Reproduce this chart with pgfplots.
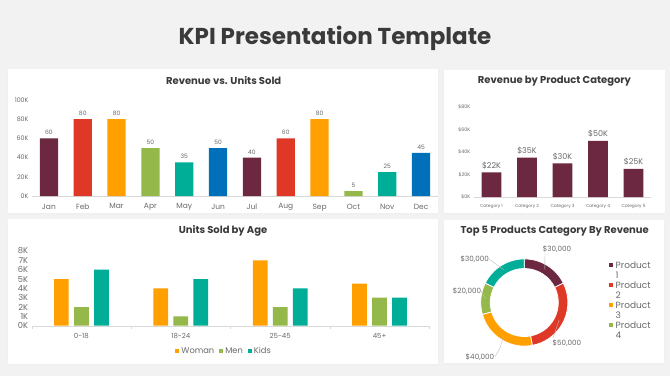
\documentclass[border=0pt]{standalone}
\usepackage{pgfplots}
\pgfplotsset{compat=1.18}
\usepackage{fontspec}
\setmainfont{Poppins}
\definecolor{cMaroon}{HTML}{6B2840}
\definecolor{cRed}{HTML}{DF3826}
\definecolor{cOrange}{HTML}{FF9F00}
\definecolor{cGreen}{HTML}{94B84A}
\definecolor{cTeal}{HTML}{00AE98}
\definecolor{cBlue}{HTML}{0070BA}
\definecolor{bg}{HTML}{F2F2F2}
\definecolor{txt}{HTML}{6A6A6A}
\definecolor{ttl}{HTML}{3A3A3A}
\definecolor{axl}{HTML}{D9D9D9}
\pgfplotsset{
  dash/.style={scale only axis, anchor=south west,
    axis x line*=bottom, axis y line*=left,
    y axis line style={draw=none}, x axis line style={draw=axl},
    tick style={draw=none},
    ticklabel style={text=txt},
    /pgf/number format/assume math mode=true,
    every axis plot/.append style={draw=none},
  }
}
\begin{document}
\begin{tikzpicture}[x=1pt,y=1pt]
\fill[bg] (0,0) rectangle (670,376);
\foreach \a/\b/\c/\d in {8/163/438/307, 444/163/665/306, 8/12/438/157, 444/13/664/156}{
  \fill[black!6] (\a-1,\b-1.5) rectangle (\c+1,\d+0.5);
  \fill[white] (\a,\b) rectangle (\c,\d);
}
\node[font=\bfseries\fontsize{23}{26}\selectfont, text=ttl] at (335,337.5) {KPI Presentation Template};

% ---------- Revenue vs. Units Sold ----------
\node[font=\bfseries\fontsize{10}{12}\selectfont, text=ttl] at (223.7,295) {Revenue vs. Units Sold};
\begin{axis}[dash, at={(32pt,180pt)}, width=406pt, height=96pt,
  ybar, bar width=18.3pt, /pgf/bar shift=0pt,
  xmin=-0.5, xmax=11.5, ymin=0, ymax=100,
  xtick={0,...,11}, xticklabels={Jan,Feb,Mar,Apr,May,Jun,Jul,Aug,Sep,Oct,Nov,Dec},
  ytick={0,20,...,100}, yticklabel={\pgfmathprintnumber{\tick}K},
  xticklabel style={font=\fontsize{7.5}{9}\selectfont},
  yticklabel style={font=\fontsize{6.3}{8}\selectfont},
  nodes near coords, nodes near coords style={font=\fontsize{6}{7}\selectfont, text=txt},
]
\addplot[fill=cMaroon] coordinates {(0,60) (6,40)};
\addplot[fill=cRed] coordinates {(1,80) (7,60)};
\addplot[fill=cOrange] coordinates {(2,80) (8,80)};
\addplot[fill=cGreen] coordinates {(3,50) (9,5)};
\addplot[fill=cTeal] coordinates {(4,35) (10,25)};
\addplot[fill=cBlue] coordinates {(5,50) (11,45)};
\end{axis}

% ---------- Revenue by Product Category ----------
\node[font=\bfseries\fontsize{10}{12}\selectfont, text=ttl] at (554.5,295) {Revenue by Product Category};
\begin{axis}[dash, at={(473.75pt,179pt)}, width=177.5pt, height=90pt,
  ybar, bar width=19.7pt, /pgf/bar shift=0pt,
  xmin=-0.5, xmax=4.5, ymin=0, ymax=80,
  xtick={0,...,4}, xticklabels={Category 1,Category 2,Category 3,Category 4,Category 5},
  ytick={0,20,...,80}, yticklabel={\$\pgfmathprintnumber{\tick}K},
  xticklabel style={font=\fontsize{4.3}{5}\selectfont},
  yticklabel style={font=\fontsize{4.8}{6}\selectfont},
  nodes near coords={\$\pgfmathprintnumber{\pgfplotspointmeta}K},
  nodes near coords style={font=\fontsize{8}{9}\selectfont, text=txt},
]
\addplot[fill=cMaroon] coordinates {(0,22) (1,35) (2,30) (3,50) (4,25)};
\end{axis}

% ---------- Units Sold by Age ----------
\node[font=\bfseries\fontsize{10}{12}\selectfont, text=ttl] at (223,145) {Units Sold by Age};
\begin{axis}[dash, at={(31.7pt,50.3pt)}, width=397.6pt, height=74.7pt,
  ybar=5.3pt, bar width=14.7pt,
  xmin=-0.5, xmax=3.5, ymin=0, ymax=8,
  xtick={0,...,3}, xticklabels={0-18,18-24,25-45,45+},
  extra x ticks={-0.5,0.5,1.5,2.5,3.5}, extra x tick labels={},
  extra x tick style={xtick style={draw=axl}, tick align=outside, major tick length=3pt},
  ytick={0,...,8}, yticklabel={\pgfmathprintnumber{\tick}K},
  xticklabel style={font=\fontsize{7}{8}\selectfont},
  yticklabel style={font=\fontsize{8.3}{9}\selectfont},
  legend style={draw=none, legend columns=-1, at={(0.484,-0.339)}, anchor=center,
    font=\fontsize{8.3}{9}\selectfont, text=txt,
    /tikz/every even column/.append style={column sep=3pt}},
  legend image code/.code={\fill[#1] (0pt,-2pt) rectangle (4pt,2pt);},
]
\addplot[fill=cOrange] coordinates {(0,5) (1,4) (2,7) (3,4.5)};
\addplot[fill=cGreen] coordinates {(0,2) (1,1) (2,2) (3,3)};
\addplot[fill=cTeal] coordinates {(0,6) (1,5) (2,4) (3,3)};
\legend{Woman,Men,Kids}
\end{axis}

% ---------- Top 5 Products ----------
\node[font=\bfseries\fontsize{10}{12}\selectfont, text=ttl] at (554.7,145) {Top 5 Products Category By Revenue};
\begin{scope}[shift={(524.3,73.5)}]
  \def\ro{43.6}\def\ri{34}
  \def\ang{90}
  \foreach \v/\c in {30/cMaroon,50/cRed,40/cOrange,20/cGreen,30/cTeal}{
    \pgfmathsetmacro{\e}{\ang-\v/170*360}
    \fill[\c, draw=white, line width=0.8pt] (\ang:\ro) arc[start angle=\ang, end angle=\e, radius=\ro]
      -- (\e:\ri) arc[start angle=\e, end angle=\ang, radius=\ri] -- cycle;
    \global\let\ang\e
  }
\end{scope}
\begin{scope}[draw=black!25, line width=0.4pt]
  \draw (545,124) -- (544.8,106.6);
  \draw (553,38) -- (559.2,56.1);
  \draw (495,19.3) -- (500,28) -- (503.7,40.4);
  \draw (481,85) -- (485.5,77.1);
  \draw (489,117) -- (503.5,106.5);
\end{scope}
\begin{scope}[font=\fontsize{7.2}{8}\selectfont, text=txt]
  \node at (557,127) {\$30,000};
  \node at (567,33.3) {\$50,000};
  \node at (480,19.3) {\$40,000};
  \node at (467,85) {\$20,000};
  \node at (474.7,117) {\$30,000};
\end{scope}
\begin{scope}[font=\fontsize{9}{10}\selectfont, text=txt]
  \foreach \c/\n/\yy in {cMaroon/1/111, cRed/2/91, cOrange/3/71, cGreen/4/51}{
    \fill[\c] (608.5,\yy-2) rectangle (612.5,\yy+2);
    \node[anchor=west, inner sep=0pt] at (615.5,\yy) {Product};
    \node[anchor=west, inner sep=0pt] at (615.5,\yy-10) {\n};
  }
\end{scope}
\end{tikzpicture}
\end{document}
